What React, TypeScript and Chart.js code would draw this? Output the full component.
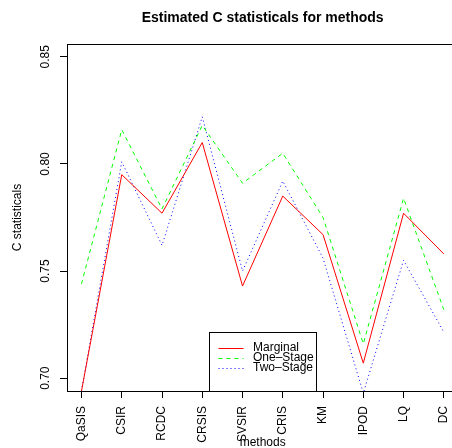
import React, { useEffect, useRef } from "react";
import { Chart, registerables } from "chart.js";

Chart.register(...registerables);

const chartTitle = "Estimated C statisticals for methods";
const xAxisTitle = "methods";
const yAxisTitle = "C statisticals";

const categories = ["QaSIS", "CSIR", "RCDC", "CRSIS", "SVSIR", "CRIS", "KM", "IPOD", "LQ", "DC"];
const seriesNames = ["Marginal", "One\u2013Stage", "Two\u2013Stage"];
const marginal = [0.694, 0.795, 0.777, 0.810, 0.743, 0.785, 0.767, 0.707, 0.777, 0.758];
const oneStage = [0.744, 0.816, 0.779, 0.818, 0.791, 0.805, 0.775, 0.716, 0.784, 0.732];
const twoStage = [0.694, 0.801, 0.762, 0.822, 0.750, 0.792, 0.756, 0.693, 0.755, 0.7215];
const yTickValues = [0.70, 0.75, 0.80, 0.85];
const yLimits = [0.70, 0.85];

const seriesValues = [marginal, oneStage, twoStage];
const seriesColors = ["#FF0000", "#00FF00", "#0000FF"];
const seriesDash = [[], [4, 4], [1, 3]];

const FONT = "'Liberation Sans', Arial, Helvetica, sans-serif";

const framePlugin = {
  id: "rframe",
  afterDraw(chart: any) {
    const { ctx, chartArea } = chart;
    ctx.save();
    ctx.strokeStyle = "#000";
    ctx.lineWidth = 1;
    ctx.setLineDash([]);
    const l = Math.round(chartArea.left) + 0.5;
    const t = Math.round(chartArea.top) + 0.5;
    const r = Math.round(chartArea.right) + 0.5;
    const b = Math.round(chartArea.bottom) + 0.5;
    ctx.strokeRect(l, t, r - l, b - t);

    // legend (R style, placed at bottom centre of plot region)
    const cx = (chartArea.left + chartArea.right) / 2;
    const boxW = 107;
    const boxH = 59;
    const bx = Math.round(cx - boxW / 2) + 0.5;
    const by = Math.round(chartArea.bottom - boxH) + 0.5;
    ctx.fillStyle = "#fff";
    ctx.fillRect(bx, by, boxW, boxH);
    ctx.strokeRect(bx, by, boxW, boxH);
    ctx.font = `12px ${FONT}`;
    ctx.textBaseline = "middle";
    ctx.textAlign = "left";
    seriesNames.forEach((name, i) => {
      const y = by + 15.5 + i * 9.8;
      const ly = Math.round(y) + 0.5;
      ctx.strokeStyle = seriesColors[i];
      ctx.setLineDash(seriesDash[i]);
      ctx.beginPath();
      ctx.moveTo(bx + 9, ly);
      ctx.lineTo(bx + 34, ly);
      ctx.stroke();
      ctx.fillStyle = "#000";
      ctx.fillText(name, bx + 43.5, y);
    });
    ctx.restore();
  },
};

export default function App() {
  const ref = useRef<HTMLCanvasElement | null>(null);

  useEffect(() => {
    if (!ref.current) return;
    const span = yLimits[1] - yLimits[0];
    const xSpan = categories.length - 1;
    const chart = new Chart(ref.current, {
      type: "line",
      data: {
        datasets: seriesValues.map((vals, si) => ({
          label: seriesNames[si],
          data: vals.map((v, i) => ({ x: i + 1, y: v })),
          borderColor: seriesColors[si],
          borderDash: seriesDash[si],
          borderWidth: 1,
          pointRadius: 0,
          fill: false,
          tension: 0,
        })),
      },
      options: {
        animation: false,
        responsive: false,
        devicePixelRatio: 1,
        events: [],
        layout: { padding: { left: 0, right: 11.7, top: 0, bottom: 0 } },
        plugins: {
          legend: { display: false },
          tooltip: { enabled: false },
          title: {
            display: true,
            text: chartTitle,
            fullSize: false,
            color: "#000",
            font: { family: FONT, size: 14, weight: "bold", lineHeight: 1.2 },
            padding: { top: 9.6, bottom: 17.6 },
          },
        },
        scales: {
          x: {
            type: "linear",
            min: 1 - 0.04 * xSpan,
            max: categories.length + 0.04 * xSpan,
            afterBuildTicks: (s: any) => {
              s.ticks = categories.map((_, i) => ({ value: i + 1 }));
            },
            afterFit: (s: any) => {
              s.height = 57;
            },
            ticks: {
              autoSkip: false,
              minRotation: 90,
              maxRotation: 90,
              padding: 8,
              color: "#000",
              font: { family: FONT, size: 12 },
              callback: (_v: any, i: number) => categories[i],
            },
            grid: {
              display: true,
              drawOnChartArea: false,
              drawTicks: true,
              tickLength: 7,
              tickColor: "#000",
              tickWidth: 1,
              color: "#000",
            },
            border: { display: false },
            title: {
              display: true,
              text: xAxisTitle,
              color: "#000",
              font: { family: FONT, size: 12, lineHeight: 1.2 },
              padding: { top: 0, bottom: -1.5 },
            },
          },
          y: {
            type: "linear",
            min: yLimits[0] - 0.04 * span,
            max: yLimits[1] + 0.04 * span,
            afterBuildTicks: (s: any) => {
              s.ticks = yTickValues.map((v) => ({ value: v }));
            },
            afterFit: (s: any) => {
              s.width = 67;
            },
            ticks: {
              minRotation: 90,
              maxRotation: 90,
              crossAlign: "center",
              padding: 3,
              color: "#000",
              font: { family: FONT, size: 12 },
              callback: (v: any) => Number(v).toFixed(2),
            },
            grid: {
              display: true,
              drawOnChartArea: false,
              drawTicks: true,
              tickLength: 7,
              tickColor: "#000",
              tickWidth: 1,
              color: "#000",
            },
            border: { display: false },
            title: {
              display: true,
              text: yAxisTitle,
              color: "#000",
              font: { family: FONT, size: 12, lineHeight: 1.2 },
              padding: { top: 10.8, bottom: 0 },
            },
          },
        },
      },
      plugins: [framePlugin],
    } as any);
    return () => chart.destroy();
  }, []);

  return (
    <div
      style={{
        position: "absolute",
        left: 0,
        top: 0,
        width: 452,
        height: 448,
        overflow: "hidden",
        background: "#fff",
      }}
    >
      <canvas ref={ref} width={470} height={448} style={{ display: "block", width: 470, height: 448 }} />
    </div>
  );
}
